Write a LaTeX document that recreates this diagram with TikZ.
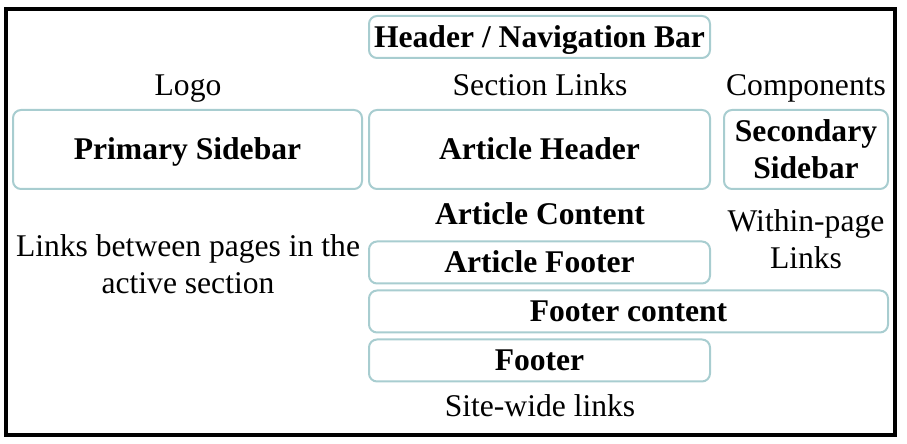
\documentclass[tikz,border=0pt]{standalone}
\usepackage{fontspec}
\setmainfont{Liberation Serif}
\usepackage{tikz}

\definecolor{boxline}{HTML}{A8CDD0}

\begin{document}
\begin{tikzpicture}[x=0.5pt, y=-0.5pt,
    every node/.style={font=\fontsize{15.8}{18.5}\selectfont, inner sep=0pt, align=center},
    box/.style={draw=boxline, line width=1pt, rounded corners=4pt, font=\fontsize{15.8}{18.5}\selectfont\bfseries},
    oneline/.style={text height=10.4pt, text depth=0pt},
    twoline/.style={}]
    \useasboundingbox (0,0) rectangle (907,444);

    % Draw the frame
    \draw[line width=2pt] (6,9) rectangle (895,435);

    % Boxes
    \foreach \name/\x/\y/\w/\h/\kind/\txt in {hdr/539.5/37/341/42/oneline/{Header / Navigation Bar},
        prim/187.5/149.5/349/79/oneline/{Primary Sidebar},
        arthdr/539.5/149.5/341/79/oneline/{Article Header},
        sec/806/149.5/164/79/twoline/{Secondary\\Sidebar},
        artftr/539.5/262.5/341/42/oneline/{Article Footer},
        ftrc/628.5/311.5/519/42/oneline/{Footer content},
        ftr/539.5/360.5/341/42/oneline/{Footer}} {
        \node[box, \kind, minimum width=\w*0.5pt, minimum height=\h*0.5pt] (\name) at (\x,\y) {\txt};
    }

    % Labels
    \node[anchor=base] (logo) at (188,96) {Logo};
    \node[anchor=base] (seclinks) at (540,96) {Section Links};
    \node[anchor=base] (comp) at (806,96) {Components};
    \node[anchor=base, font=\fontsize{15.8}{18.5}\selectfont\bfseries] (artcont) at (540,225) {Article Content};
    \node (within) at (806,239.5) {Within-page\\Links};
    \node (sidelinks) at (188,263.7) {Links between pages in the\\active section};
    \node[anchor=base] (sitelinks) at (540,416.7) {Site-wide links};
\end{tikzpicture}
\end{document}
